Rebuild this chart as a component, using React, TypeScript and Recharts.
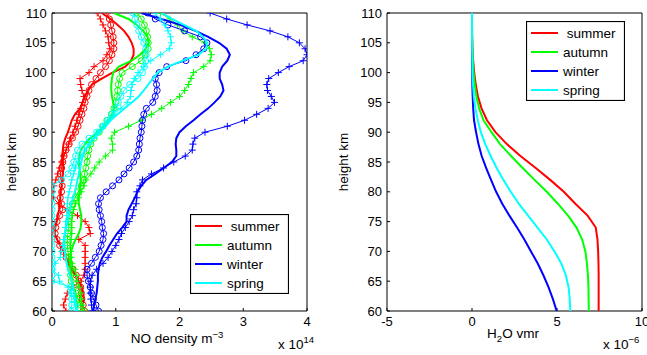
import React from 'react';
import { ScatterChart, Scatter, XAxis, YAxis, Legend } from 'recharts';

const FONT = '"Liberation Sans", Arial, Helvetica, sans-serif';

// heights (km) for the NO density profiles, top to bottom
const heights = [
  110, 109, 108, 107, 106, 105, 104, 103, 102, 101, 100,
  99, 98, 97, 96, 95, 94, 93, 92, 91, 90,
  89, 88, 87, 86, 85, 84, 83, 82, 81, 80,
  79, 78, 77, 76, 75, 74, 73, 72, 71, 70,
  69, 68, 67, 66, 65, 64, 63, 62, 61, 60,
];

// heights (km) for the H2O profiles
const heightsH2O = [110, 108, 106, 104, 102, 100, 98, 96, 94, 92, 90, 88, 86, 84, 82, 80, 78, 76, 74, 72, 70, 68, 66, 64, 62, 60];

const heightTicks = [60, 65, 70, 75, 80, 85, 90, 95, 100, 105, 110];
const noTicks = [0, 1, 2, 3, 4];
const h2oTicks = [-5, 0, 5, 10];

const seasons = [' summer', 'autumn', 'winter', 'spring'];
const seasonColors = ['#ff0000', '#00ff00', '#0000ff', '#00ffff'];

// NO density (x 1e14 m^-3)
const summerSolid = [
  0.78, 0.92, 1.03, 1.13, 1.2, 1.25, 1.28, 1.28, 1.24, 1.15, 0.95,
  0.78, 0.63, 0.56, 0.52, 0.48, 0.44, 0.36, 0.31, 0.28, 0.25,
  0.21, 0.18, 0.17, 0.16, 0.17, 0.18, 0.17, 0.16, 0.15, 0.13,
  0.13, 0.12, 0.11, 0.09, 0.07, 0.04, 0.04, 0.08, 0.13, 0.18,
  0.22, 0.26, 0.3, 0.37, 0.42, 0.47, 0.49, 0.5, 0.48, 0.45,
];
const summerCircle = [
  0.85, 0.9, 0.92, 0.94, 0.96, 0.97, 0.97, 0.94, 0.9, 0.84, 0.76,
  0.69, 0.62, 0.58, 0.55, 0.52, 0.5, 0.47, 0.44, 0.41, 0.37,
  0.32, 0.27, 0.22, 0.19, 0.17, 0.15, 0.13, 0.14, 0.16, 0.15,
  0.13, 0.15, 0.17, 0.12, 0.08, 0.06, 0.05, 0.08, 0.12, 0.17,
  0.22, 0.28, 0.33, 0.38, 0.42, 0.45, 0.46, 0.47, 0.49, 0.51,
];
const summerPlus = [
  0.71, 0.76, 0.8, 0.84, 0.88, 0.89, 0.91, 0.86, 0.8, 0.66, 0.58,
  0.44, 0.45, 0.47, 0.5, 0.48, 0.45, 0.42, 0.39, 0.36, 0.33,
  0.29, 0.26, 0.22, 0.18, 0.15, 0.12, 0.09, 0.06, 0.03, 0.01,
  0.02, 0.1, 0.24, 0.4, 0.52, 0.58, 0.6, 0.42, 0.52, 0.52,
  0.52, 0.52, 0.52, 0.5, 0.45, 0.32, 0.24, 0.21, 0.18, 0.22,
];
const autumnSolid = [
  0.97, 1.2, 1.33, 1.43, 1.5, 1.52, 1.47, 1.38, 1.25, 1.05, 0.96,
  0.94, 0.93, 0.93, 0.94, 0.96, 0.98, 0.95, 0.9, 0.82, 0.72,
  0.6, 0.52, 0.45, 0.43, 0.42, 0.43, 0.44, 0.45, 0.44, 0.43,
  0.42, 0.42, 0.44, 0.46, 0.46, 0.45, 0.42, 0.37, 0.33, 0.3,
  0.29, 0.29, 0.29, 0.3, 0.31, 0.33, 0.36, 0.38, 0.39, 0.4,
];
const autumnCircle = [
  1.33, 1.4, 1.45, 1.48, 1.5, 1.51, 1.51, 1.46, 1.4, 1.26, 1.1,
  1.06, 1.04, 1.03, 1.02, 1.0, 0.97, 0.93, 0.86, 0.8, 0.74,
  0.66, 0.61, 0.58, 0.56, 0.55, 0.53, 0.51, 0.5, 0.46, 0.41,
  0.36, 0.32, 0.29, 0.27, 0.26, 0.26, 0.25, 0.24, 0.24, 0.25,
  0.27, 0.28, 0.29, 0.29, 0.3, 0.34, 0.38, 0.41, 0.45, 0.5,
];
const autumnPlus = [
  1.7, 1.85, 1.97, 2.06, 2.2, 2.4, 2.47, 2.5, 2.48, 2.38, 2.22,
  2.18, 2.14, 2.08, 2.0, 1.86, 1.72, 1.56, 1.4, 1.2, 0.98,
  0.93, 0.95, 0.95, 0.84, 0.74, 0.67, 0.61, 0.53, 0.5, 0.46,
  0.42, 0.37, 0.34, 0.32, 0.31, 0.31, 0.31, 0.3, 0.29, 0.29,
  0.3, 0.31, 0.36, 0.38, 0.4, 0.43, 0.45, 0.46, 0.47, 0.47,
];
const winterSolid = [
  1.4, 1.72, 2.01, 2.25, 2.45, 2.62, 2.74, 2.79, 2.75, 2.67, 2.63,
  2.63, 2.67, 2.69, 2.64, 2.55, 2.45, 2.33, 2.22, 2.1, 2.0,
  1.95, 1.94, 1.95, 1.95, 1.88, 1.75, 1.62, 1.48, 1.4, 1.34,
  1.3, 1.25, 1.2, 1.17, 1.17, 1.1, 1.02, 0.96, 0.9, 0.85,
  0.79, 0.75, 0.73, 0.72, 0.72, 0.71, 0.7, 0.68, 0.66, 0.65,
];
const winterCircle = [
  1.5, 1.62, 1.82, 2.08, 2.33, 2.43, 2.38, 2.26, 2.1, 1.8, 1.68,
  1.62, 1.64, 1.65, 1.62, 1.58, 1.48, 1.44, 1.42, 1.41, 1.4,
  1.38, 1.37, 1.36, 1.33, 1.28, 1.21, 1.13, 1.05, 0.95, 0.85,
  0.76, 0.73, 0.74, 0.76, 0.78, 0.79, 0.81, 0.8, 0.77, 0.74,
  0.68, 0.62, 0.55, 0.55, 0.57, 0.6, 0.62, 0.65, 0.69, 0.73,
];
const winterPlus = [
  2.48, 2.74, 3.06, 3.42, 3.7, 3.88, 3.97, 4.0, 3.94, 3.72, 3.55,
  3.4, 3.37, 3.38, 3.44, 3.49, 3.39, 3.21, 3.02, 2.75, 2.4,
  2.24, 2.21, 2.2, 2.09, 1.91, 1.75, 1.56, 1.42, 1.38, 1.33,
  1.33, 1.32, 1.28, 1.26, 1.21, 1.15, 1.09, 1.05, 1.0, 0.94,
  0.88, 0.8, 0.7, 0.63, 0.6, 0.6, 0.6, 0.61, 0.62, 0.63,
];
const springSolid = [
  1.72, 1.88, 2.07, 2.26, 2.37, 2.43, 2.42, 2.3, 2.05, 1.82, 1.66,
  1.58, 1.51, 1.44, 1.36, 1.25, 1.14, 1.03, 0.92, 0.84, 0.76,
  0.66, 0.58, 0.52, 0.48, 0.46, 0.44, 0.42, 0.4, 0.38, 0.36,
  0.33, 0.3, 0.28, 0.26, 0.24, 0.22, 0.2, 0.19, 0.19, 0.2,
  0.21, 0.23, 0.25, 0.28, 0.31, 0.33, 0.35, 0.36, 0.37, 0.38,
];
const springCircle = [
  1.27, 1.3, 1.33, 1.36, 1.4, 1.44, 1.47, 1.48, 1.47, 1.45, 1.42,
  1.35, 1.22, 1.13, 1.08, 1.04, 0.99, 0.94, 0.87, 0.79, 0.7,
  0.58, 0.47, 0.4, 0.37, 0.34, 0.31, 0.25, 0.15, 0.0, 0.0,
  0.0, 0.0, 0.0, 0.0, 0.0, 0.0, 0.0, 0.0, 0.0, 0.0,
  0.0, 0.0, 0.0, 0.0, 0.0, 0.3, 0.3, 0.31, 0.31, 0.3,
];
const springPlus = [
  1.62, 1.7, 1.77, 1.82, 1.86, 1.87, 1.84, 1.7, 1.55, 1.44, 1.35,
  1.29, 1.26, 1.24, 1.23, 1.18, 1.08, 0.97, 0.88, 0.79, 0.72,
  0.66, 0.59, 0.51, 0.45, 0.41, 0.37, 0.34, 0.31, 0.29, 0.27,
  0.25, 0.24, 0.24, 0.23, 0.22, 0.21, 0.2, 0.18, 0.17, 0.15,
  0.13, 0.05, 0.0, 0.1, 0.12, 0.25, 0.3, 0.35, 0.38, 0.4,
];

// H2O vmr (x 1e-6)
const summerH2O = [0, 0, 0.01, 0.03, 0.07, 0.13, 0.22, 0.35, 0.56, 0.88, 1.38, 2.05, 2.85, 3.75, 4.6, 5.4, 6.08, 6.8, 7.28, 7.38, 7.42, 7.44, 7.45, 7.45, 7.45, 7.45];
const autumnH2O = [0, 0, 0.01, 0.02, 0.05, 0.09, 0.16, 0.26, 0.42, 0.68, 1.15, 1.65, 2.3, 2.98, 3.68, 4.4, 5.05, 5.65, 6.15, 6.48, 6.67, 6.76, 6.82, 6.85, 6.86, 6.87];
const winterH2O = [0, 0, 0, 0, 0, 0.01, 0.02, 0.04, 0.07, 0.12, 0.24, 0.38, 0.57, 0.83, 1.12, 1.42, 1.78, 2.2, 2.65, 3.08, 3.47, 3.86, 4.2, 4.5, 4.76, 4.98];
const springH2O = [0, 0, 0, 0.01, 0.02, 0.03, 0.06, 0.11, 0.2, 0.34, 0.52, 0.78, 1.1, 1.45, 1.85, 2.28, 2.75, 3.3, 3.85, 4.4, 4.85, 5.25, 5.52, 5.68, 5.75, 5.78];

type Kind = 'none' | 'circle' | 'plus';
type Series = { key: string; color: string; kind: Kind; width: number; values: number[] };

const noSeries: Series[] = [
  { key: 'summerSolid', color: seasonColors[0], kind: 'none', width: 2, values: summerSolid },
  { key: 'summerCircle', color: seasonColors[0], kind: 'circle', width: 1, values: summerCircle },
  { key: 'summerPlus', color: seasonColors[0], kind: 'plus', width: 1, values: summerPlus },
  { key: 'autumnSolid', color: seasonColors[1], kind: 'none', width: 2, values: autumnSolid },
  { key: 'autumnCircle', color: seasonColors[1], kind: 'circle', width: 1, values: autumnCircle },
  { key: 'autumnPlus', color: seasonColors[1], kind: 'plus', width: 1, values: autumnPlus },
  { key: 'winterSolid', color: seasonColors[2], kind: 'none', width: 2, values: winterSolid },
  { key: 'winterCircle', color: seasonColors[2], kind: 'circle', width: 1, values: winterCircle },
  { key: 'winterPlus', color: seasonColors[2], kind: 'plus', width: 1, values: winterPlus },
  { key: 'springSolid', color: seasonColors[3], kind: 'none', width: 2, values: springSolid },
  { key: 'springCircle', color: seasonColors[3], kind: 'circle', width: 1, values: springCircle },
  { key: 'springPlus', color: seasonColors[3], kind: 'plus', width: 1, values: springPlus },
];

const h2oSeries: Series[] = [
  { key: 'summerH2O', color: seasonColors[0], kind: 'none', width: 2, values: summerH2O },
  { key: 'autumnH2O', color: seasonColors[1], kind: 'none', width: 2, values: autumnH2O },
  { key: 'winterH2O', color: seasonColors[2], kind: 'none', width: 2, values: winterH2O },
  { key: 'springH2O', color: seasonColors[3], kind: 'none', width: 2, values: springH2O },
];

const toPoints = (vals: number[], hs: number[]) => hs.map((h, i) => ({ x: vals[i], y: h }));

const makeShape = (kind: Kind, color: string) => (props: any) => {
  const { cx, cy } = props;
  if (kind === 'circle') {
    return <circle cx={cx} cy={cy} r={3} fill="none" stroke={color} strokeWidth={1} />;
  }
  if (kind === 'plus') {
    return (
      <path
        d={`M${cx - 3.5},${cy}H${cx + 3.5}M${cx},${cy - 3.5}V${cy + 3.5}`}
        stroke={color}
        strokeWidth={1}
        fill="none"
      />
    );
  }
  return <g />;
};

const tickStyle = { fill: '#000', fontSize: 13, fontFamily: FONT };
const axisLineStyle = { stroke: '#000', strokeWidth: 1 };

const LegendBox = () => (
  <svg width={99} height={80} style={{ display: 'block' }}>
    <rect x={0.5} y={0.5} width={98} height={79} fill="#fff" stroke="#000" strokeWidth={1.2} />
    {seasons.map((s, i) => (
      <g key={s}>
        <line x1={5} x2={32} y1={12 + 19 * i} y2={12 + 19 * i} stroke={seasonColors[i]} strokeWidth={2} />
        <text
          x={37}
          y={12 + 19 * i + 4.8}
          fontSize={13.5}
          fontFamily={FONT}
          fill="#000"
          style={{ whiteSpace: 'pre' }}
        >
          {s}
        </text>
      </g>
    ))}
  </svg>
);

const HeightLabel = (x: number) => () => (
  <text
    x={x}
    y={162}
    transform={`rotate(-90, ${x}, 162)`}
    textAnchor="middle"
    fontSize={13.5}
    fontFamily={FONT}
    fill="#000"
  >
    height km
  </text>
);

const NoXLabel = () => (
  <g fontFamily={FONT} fill="#000">
    <text x={177} y={343} textAnchor="middle" fontSize={13.5}>
      NO density m<tspan dy={-5} fontSize={9.5}>−3</tspan>
    </text>
    <text x={278} y={349} fontSize={13.5}>
      x 10<tspan dy={-6} fontSize={9.5}>14</tspan>
    </text>
  </g>
);

const H2OXLabel = () => (
  <g fontFamily={FONT} fill="#000">
    <text x={183} y={338} textAnchor="middle" fontSize={13.5}>
      H<tspan dy={4} fontSize={9.5}>2</tspan>
      <tspan dy={-4}>O vmr</tspan>
    </text>
    <text x={273} y={349} fontSize={13.5}>
      x 10<tspan dy={-6} fontSize={9.5}>−6</tspan>
    </text>
  </g>
);

function LeftChart() {
  return (
    <ScatterChart width={330} height={355} margin={{ top: 12, right: 22, bottom: 14, left: 0 }}>
      <XAxis
        xAxisId="b"
        type="number"
        dataKey="x"
        domain={[0, 4]}
        ticks={noTicks}
        allowDataOverflow
        orientation="bottom"
        height={30}
        interval={0}
        tickSize={-3}
        tickMargin={9}
        axisLine={axisLineStyle}
        tickLine={axisLineStyle}
        tick={tickStyle}
        label={NoXLabel}
      />
      <XAxis
        xAxisId="t"
        type="number"
        domain={[0, 4]}
        ticks={noTicks}
        allowDataOverflow
        orientation="top"
        height={1}
        interval={0}
        tickSize={-3}
        axisLine={axisLineStyle}
        tickLine={axisLineStyle}
        tick={false}
      />
      <YAxis
        yAxisId="l"
        type="number"
        dataKey="y"
        domain={[60, 110]}
        ticks={heightTicks}
        allowDataOverflow
        width={52}
        interval={0}
        tickSize={-3}
        tickMargin={8.3}
        axisLine={axisLineStyle}
        tickLine={axisLineStyle}
        tick={tickStyle}
        label={HeightLabel(16)}
      />
      <YAxis
        yAxisId="r"
        type="number"
        orientation="right"
        domain={[60, 110]}
        ticks={heightTicks}
        allowDataOverflow
        width={1}
        interval={0}
        tickSize={-3}
        axisLine={axisLineStyle}
        tickLine={axisLineStyle}
        tick={false}
      />
      {noSeries.map((s) => (
        <Scatter
          key={s.key}
          name={s.key}
          xAxisId="b"
          yAxisId="l"
          data={toPoints(s.values, heights)}
          fill={s.color}
          line={{ stroke: s.color, strokeWidth: s.width }}
          shape={makeShape(s.kind, s.color)}
          isAnimationActive={false}
        />
      ))}
      <Legend
        layout="vertical"
        align="center"
        verticalAlign="middle"
        content={LegendBox}
        wrapperStyle={{ left: 190, top: 214, width: 99, height: 80 }}
      />
    </ScatterChart>
  );
}

function RightChart() {
  return (
    <ScatterChart width={317} height={355} margin={{ top: 12, right: 4, bottom: 14, left: 0 }}>
      <XAxis
        xAxisId="b"
        type="number"
        dataKey="x"
        domain={[-5, 10]}
        ticks={h2oTicks}
        allowDataOverflow
        orientation="bottom"
        height={30}
        interval={0}
        tickSize={-3}
        tickMargin={9}
        axisLine={axisLineStyle}
        tickLine={axisLineStyle}
        tick={tickStyle}
        label={H2OXLabel}
      />
      <XAxis
        xAxisId="t"
        type="number"
        domain={[-5, 10]}
        ticks={h2oTicks}
        allowDataOverflow
        orientation="top"
        height={1}
        interval={0}
        tickSize={-3}
        axisLine={axisLineStyle}
        tickLine={axisLineStyle}
        tick={false}
      />
      <YAxis
        yAxisId="l"
        type="number"
        dataKey="y"
        domain={[60, 110]}
        ticks={heightTicks}
        allowDataOverflow
        width={57}
        interval={0}
        tickSize={-3}
        tickMargin={8}
        axisLine={axisLineStyle}
        tickLine={axisLineStyle}
        tick={tickStyle}
        label={HeightLabel(18.3)}
      />
      <YAxis
        yAxisId="r"
        type="number"
        orientation="right"
        domain={[60, 110]}
        ticks={heightTicks}
        allowDataOverflow
        width={1}
        interval={0}
        tickSize={-3}
        axisLine={axisLineStyle}
        tickLine={axisLineStyle}
        tick={false}
      />
      {h2oSeries.map((s) => (
        <Scatter
          key={s.key}
          name={s.key}
          xAxisId="b"
          yAxisId="l"
          data={toPoints(s.values, heightsH2O)}
          fill={s.color}
          line={{ stroke: s.color, strokeWidth: s.width }}
          shape={makeShape(s.kind, s.color)}
          isAnimationActive={false}
        />
      ))}
      <Legend
        layout="vertical"
        align="center"
        verticalAlign="middle"
        content={LegendBox}
        wrapperStyle={{ left: 196, top: 21, width: 99, height: 80 }}
      />
    </ScatterChart>
  );
}

export default function App() {
  return (
    <div style={{ position: 'absolute', left: 0, top: 0, width: 647, height: 355, background: '#fff', overflow: 'hidden' }}>
      <div style={{ position: 'absolute', left: 0, top: 0 }}>
        <LeftChart />
      </div>
      <div style={{ position: 'absolute', left: 330, top: 0 }}>
        <RightChart />
      </div>
    </div>
  );
}
